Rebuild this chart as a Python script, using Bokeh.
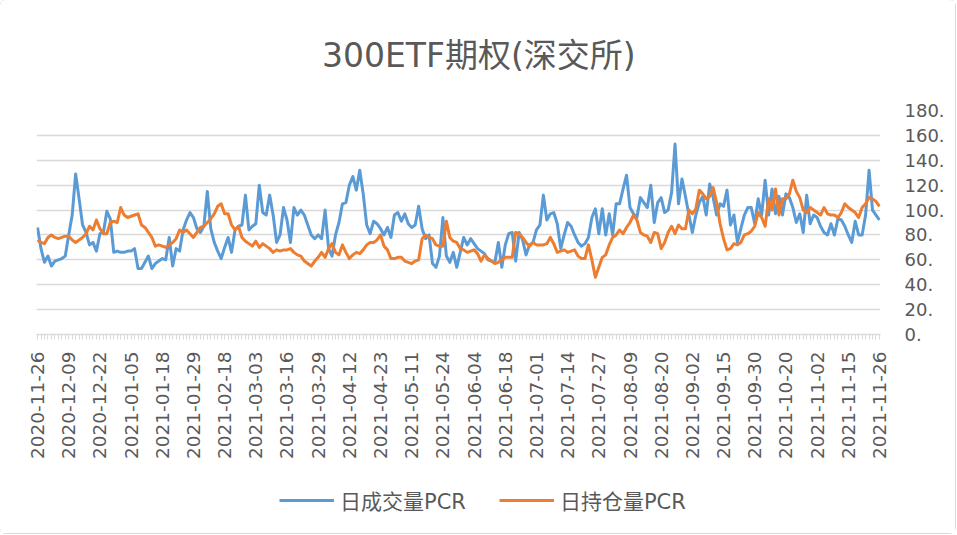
from bokeh.plotting import figure
from bokeh.layouts import column
from bokeh.models import Range1d, FixedTicker, Legend, LegendItem, Label
from bokeh.embed import file_html
from bokeh.resources import INLINE

TITLE = "300ETF期权(深交所)"
SERIES_NAMES = ["日成交量PCR", "日持仓量PCR"]
TICK_LABELS = [
    "2020-11-26", "2020-12-09", "2020-12-22", "2021-01-05", "2021-01-18",
    "2021-01-29", "2021-02-18", "2021-03-03", "2021-03-16", "2021-03-29",
    "2021-04-12", "2021-04-23", "2021-05-11", "2021-05-24", "2021-06-04",
    "2021-06-18", "2021-07-01", "2021-07-14", "2021-07-27", "2021-08-09",
    "2021-08-20", "2021-09-02", "2021-09-15", "2021-09-30", "2021-10-20",
    "2021-11-02", "2021-11-15", "2021-11-26",
]
TICK_EVERY = 9
Y_TICKS = [0, 20, 40, 60, 80, 100, 120, 140, 160, 180]
Y_TICK_LABELS = ["0.", "20.", "40.", "60.", "80.", "100.", "120.", "140.", "160.", "180."]

volume_pcr = [
    86, 69, 58, 63, 55, 59, 60, 61, 63, 80,
    96, 129, 109, 88, 82, 72, 74, 67, 81, 82,
    99, 93, 66, 67, 66, 66, 67, 67, 69, 53,
    53, 58, 63, 53, 57, 59, 61, 60, 78, 55,
    69, 67, 84, 92, 98, 94, 85, 82, 87, 115,
    85, 74, 67, 61, 70, 78, 66, 84, 87, 88,
    112, 84, 87, 89, 120, 98, 96, 112, 96, 74,
    80, 102, 92, 74, 102, 96, 100, 96, 88, 80,
    77, 80, 77, 100, 69, 63, 80, 90, 105, 106,
    120, 127, 116, 132, 113, 88, 81, 91, 89, 85,
    80, 86, 78, 96, 98, 91, 97, 89, 86, 88,
    103, 85, 77, 80, 57, 54, 63, 94, 63, 58,
    66, 54, 66, 78, 72, 77, 73, 69, 67, 65,
    60, 59, 58, 74, 54, 72, 81, 82, 59, 82,
    76, 64, 72, 74, 84, 88, 112, 92, 97, 98,
    89, 69, 80, 90, 87, 80, 74, 71, 73, 78,
    94, 101, 81, 101, 80, 97, 80, 105, 105, 117,
    128, 102, 97, 94, 110, 106, 102, 120, 90, 106,
    110, 98, 100, 114, 153, 105, 125, 111, 96, 82,
    96, 106, 111, 96, 121, 110, 96, 105, 103, 116,
    88, 96, 74, 85, 96, 102, 102, 89, 109, 96,
    124, 96, 117, 97, 111, 96, 113, 110, 102, 90,
    97, 82, 112, 89, 96, 94, 87, 82, 80, 89,
    80, 93, 92, 87, 80, 74, 91, 80, 80, 96,
    132, 100, 96, 92,
]

oi_pcr = [
    76, 74, 73, 78, 80, 78, 77, 78, 79, 79,
    76, 74, 76, 78, 81, 87, 84, 92, 85, 81,
    81, 90, 91, 90, 102, 96, 94, 95, 96, 97,
    88, 86, 82, 78, 71, 72, 71, 70, 72, 74,
    77, 84, 82, 84, 81, 78, 82, 86, 87, 90,
    93, 97, 103, 105, 97, 97, 88, 84, 87, 78,
    75, 73, 71, 75, 70, 73, 71, 69, 66, 68,
    67, 68, 68, 69, 66, 64, 63, 59, 57, 55,
    59, 62, 66, 62, 69, 73, 66, 64, 72, 66,
    61, 64, 66, 65, 68, 72, 74, 74, 76, 80,
    71, 68, 61, 61, 62, 62, 59, 58, 57, 59,
    60, 77, 80, 78, 77, 72, 71, 71, 91, 78,
    75, 74, 69, 68, 66, 67, 68, 65, 59, 64,
    61, 59, 57, 58, 60, 62, 62, 62, 82, 81,
    78, 74, 71, 74, 72, 72, 72, 73, 78, 73,
    66, 67, 68, 66, 67, 68, 63, 61, 61, 72,
    60, 46, 54, 62, 64, 72, 78, 80, 84, 81,
    86, 90, 96, 92, 82, 80, 79, 74, 82, 81,
    69, 74, 82, 87, 81, 88, 85, 85, 100, 97,
    101, 116, 113, 109, 111, 118, 106, 89, 77, 68,
    69, 73, 72, 74, 80, 81, 83, 87, 98, 94,
    87, 109, 100, 117, 96, 109, 109, 113, 124, 115,
    110, 100, 98, 102, 100, 98, 96, 102, 97, 96,
    96, 94, 98, 105, 102, 100, 98, 94, 102, 105,
    110, 109, 107, 103,
]

TEXT = "#595959"
GRID = "#d9d9d9"
BLUE = "#5B9BD5"
ORANGE = "#ED7D31"
LATIN_CJK = "DejaVu Sans, Noto Sans CJK SC"

n = len(volume_pcr)
x = list(range(n))

W = 955
H_TOP = 80
H_MAIN = 390
H_LEG = 63


def strip(height):
    f = figure(
        width=W, height=height,
        output_backend="svg", toolbar_location=None,
        x_range=Range1d(0, W), y_range=Range1d(0, height),
        x_axis_location=None, y_axis_location=None,
        min_border_left=0, min_border_right=0,
        min_border_top=0, min_border_bottom=0,
    )
    f.outline_line_color = None
    f.grid.visible = False
    f.background_fill_color = "white"
    f.border_fill_color = "white"
    return f


# ---- title strip
t = strip(H_TOP)
t.add_layout(Label(
    x=323, y=H_TOP - 55, text=TITLE,
    text_align="left", text_baseline="middle",
    text_font=LATIN_CJK, text_font_size="33px", text_color=TEXT,
))

# ---- main chart
p = figure(
    width=W, height=H_MAIN,
    output_backend="svg", toolbar_location=None,
    x_range=Range1d(-0.3, n - 1 + 0.3), y_range=Range1d(0, 180),
    y_axis_location="right",
    min_border_left=36, min_border_right=75,
    min_border_top=30, min_border_bottom=136,
)
p.outline_line_color = None
p.background_fill_color = "white"
p.border_fill_color = "white"

p.xgrid.visible = False
p.ygrid.grid_line_color = GRID
p.ygrid.grid_line_width = 1.3
p.ygrid.ticker = FixedTicker(ticks=Y_TICKS)

ya = p.yaxis[0]
ya.ticker = FixedTicker(ticks=Y_TICKS)
ya.major_label_overrides = {tk: lb for tk, lb in zip(Y_TICKS, Y_TICK_LABELS)}
ya.axis_line_color = None
ya.major_tick_line_color = None
ya.minor_tick_line_color = None
ya.major_label_standoff = 18
ya.major_label_text_font = "DejaVu Sans"
ya.major_label_text_font_size = "18px"
ya.major_label_text_color = TEXT

xa = p.xaxis[0]
xa.ticker = FixedTicker(ticks=x)
overrides = {i: "" for i in x}
for k, lab in enumerate(TICK_LABELS):
    overrides[k * TICK_EVERY] = lab
xa.major_label_overrides = overrides
xa.major_label_orientation = 3.141592653589793 / 2
xa.axis_line_color = GRID
xa.axis_line_width = 1.3
xa.major_tick_line_color = GRID
xa.major_tick_in = 0
xa.major_tick_out = 5
xa.minor_tick_line_color = None
xa.major_label_standoff = 12
xa.major_label_text_font = "DejaVu Sans"
xa.major_label_text_font_size = "18.5px"
xa.major_label_text_color = TEXT

p.line(x, volume_pcr, line_color=BLUE, line_width=3, line_join="round")
p.line(x, oi_pcr, line_color=ORANGE, line_width=3, line_join="round")

# ---- legend strip (series drawn off-frame, only their legend swatches show)
q = figure(
    width=W, height=H_LEG,
    output_backend="svg", toolbar_location=None,
    x_range=Range1d(0, 1), y_range=Range1d(-2, -1),
    x_axis_location=None, y_axis_location=None,
    min_border_left=0, min_border_right=0, min_border_top=0, min_border_bottom=0,
)
q.outline_line_color = None
q.grid.visible = False
q.background_fill_color = "white"
q.border_fill_color = "white"
k1 = q.line(x, volume_pcr, line_color=BLUE, line_width=3)
k2 = q.line(x, oi_pcr, line_color=ORANGE, line_width=3)

legend = Legend(
    items=[LegendItem(label=SERIES_NAMES[0], renderers=[k1]),
           LegendItem(label=SERIES_NAMES[1], renderers=[k2])],
    orientation="horizontal",
    location=(243, 18),
    glyph_width=55, glyph_height=24,
    label_standoff=6, spacing=33,
    padding=0, margin=0,
    border_line_color=None, background_fill_alpha=0,
    label_text_font=LATIN_CJK, label_text_font_size="21px",
    label_text_color=TEXT,
)
q.add_layout(legend)

layout = column(t, p, q, spacing=0)
layout.styles = {"outline": "1px solid #d9d9d9", "border-radius": "6px"}

open("out.html", "w").write(file_html(layout, INLINE))
